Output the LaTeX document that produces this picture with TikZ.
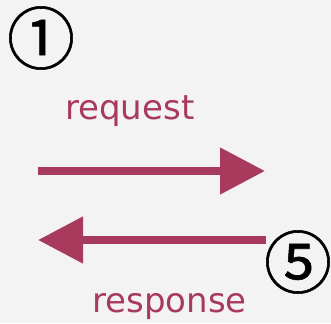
\documentclass[tikz,border=0pt]{standalone}
\usepackage{fontspec}
\setmainfont{DejaVu Sans}
\newfontfamily\circfont{Noto Sans CJK JP}[FakeBold=0.8]
\usetikzlibrary{arrows.meta}
\definecolor{wine}{RGB}{168,58,94}
\definecolor{paper}{RGB}{243,243,243}
\tikzset{
  flow/.style={draw=wine, line width=8pt, -{Triangle[length=45pt,width=45pt]}},
  lbl/.style={text=wine, font=\fontsize{34}{34}\selectfont, inner sep=0pt, anchor=base west},
  num/.style={text=black, font=\circfont\fontsize{68}{68}\selectfont, inner sep=0pt}
}
\begin{document}
\begin{tikzpicture}[x=1pt,y=-1pt]
\fill[paper] (0,0) rectangle (331,323);
\useasboundingbox (0,0) rectangle (331,323);
\node[num] (n1) at (41,38) {①};
\node[num] (n5) at (298,262) {⑤};
\node[lbl] (req) at (65,120) {request};
\node[lbl] (resp) at (92,312) {response};
\coordinate (a1) at (38,171);
\coordinate (a2) at (265,171);
\coordinate (b1) at (266,240);
\coordinate (b2) at (38,240);
\draw[flow] (a1) -- (a2);
\draw[flow] (b1) -- (b2);
\end{tikzpicture}
\end{document}
